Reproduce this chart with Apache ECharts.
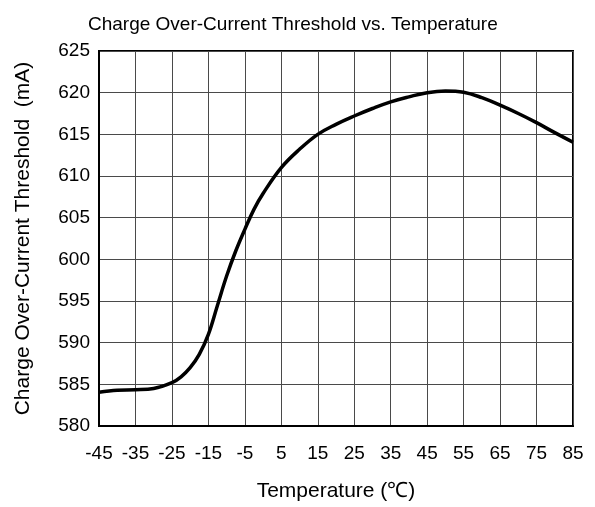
<!DOCTYPE html>
<html>
<head>
<meta charset="utf-8">
<script src="https://cdn.jsdelivr.net/npm/echarts@6/dist/echarts.min.js"></script>
<style>
  html, body { margin: 0; padding: 0; background: #fff; }
  #chart { width: 595px; height: 507px; }
</style>
</head>
<body>
<div id="chart"></div>
<script>
  // temperature (°C) and threshold (mA)
  const temps = [-45, -40, -35, -30, -25, -22.5, -20, -17.5, -15, -12.5, -10, -7.5, -5, -2.5, 0, 5, 10, 15, 20, 25, 30, 35, 40, 45, 50, 55, 60, 65, 70, 75, 80, 85]
  const threshold = [584.05, 584.3, 584.35, 584.5, 585.2, 585.9, 587.0, 588.6, 591.0, 594.5, 598.0, 601.0, 603.6, 606.0, 607.9, 611.0, 613.2, 615.0, 616.2, 617.2, 618.1, 618.9, 619.5, 620.0, 620.2, 620.05, 619.4, 618.5, 617.5, 616.4, 615.2, 614.05]

  const font = '"Liberation Sans", Arial, sans-serif'
  const chart = echarts.init(document.getElementById('chart'))

  const option = {
    animation: false,
    backgroundColor: '#fff',
    title: {
      text: 'Charge Over-Current Threshold vs. Temperature',
      left: 83,
      top: 10,
      textStyle: { fontFamily: font, fontSize: 19, fontWeight: 'normal', color: '#000' }
    },
    grid: {
      left: 99, right: 22, top: 51, bottom: 79,
      show: true,
      borderColor: '#000',
      borderWidth: 2
    },
    xAxis: {
      type: 'value',
      min: -45,
      max: 85,
      interval: 10,
      name: 'Temperature (℃)',
      nameLocation: 'middle',
      nameGap: 55,
      nameTextStyle: { fontFamily: font, fontSize: 21, color: '#000' },
      axisLine: { onZero: false, lineStyle: { color: '#000', width: 2 } },
      axisTick: { show: false },
      axisLabel: { fontFamily: font, fontSize: 19, color: '#000', margin: 18 },
      splitLine: { lineStyle: { color: '#4a4a4a', width: 1 } }
    },
    yAxis: {
      type: 'value',
      min: 580,
      max: 625,
      interval: 5,
      name: 'Charge Over-Current Threshold  (mA)',
      nameLocation: 'middle',
      nameGap: 65,
      nameTextStyle: { fontFamily: font, fontSize: 21, color: '#000' },
      axisLine: { onZero: false, lineStyle: { color: '#000', width: 2 } },
      axisTick: { show: false },
      axisLabel: { fontFamily: font, fontSize: 19, color: '#000', margin: 9 },
      splitLine: { lineStyle: { color: '#4a4a4a', width: 1 } }
    },
    series: [
      {
        type: 'line',
        data: temps.map((t, i) => [t, threshold[i]]),
        smooth: 0.4,
        symbol: 'none',
        lineStyle: { color: '#000', width: 3.5 }
      }
    ]
  }

  chart.setOption(option)
</script>
</body>
</html>
